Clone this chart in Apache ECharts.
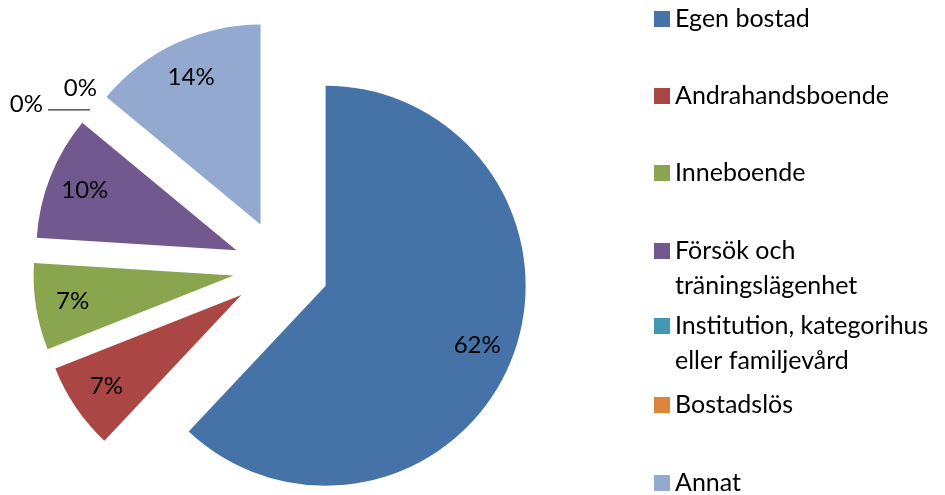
<!DOCTYPE html>
<html>
<head>
<meta charset="utf-8">
<title>Boende</title>
<script src="https://cdn.jsdelivr.net/npm/echarts@6/dist/echarts.min.js"></script>
<style>
    html, body { margin: 0; padding: 0; background: #fff; }
    #main { width: 945px; height: 495px; }
</style>
</head>
<body>
<div id="main"></div>
<script>
    // kategorier och andelar (procent)
    var categories = ['Egen bostad', 'Andrahandsboende', 'Inneboende', 'Försök och\nträningslägenhet',
        'Institution, kategorihus\neller familjevård', 'Bostadslös', 'Annat'];
    var shares = [62, 7, 7, 10, 0, 0, 14];

    var colors = ['#4572A7', '#AA4643', '#89A54E', '#71588F', '#4198AF', '#DB843D', '#93A9CF'];
    // legendens ikonmitt (y) for varje rad
    var legendIconY = [19, 96, 173, 251, 326, 405, 483];

    var font = 'Lato';

    var myChart = echarts.init(document.getElementById('main'));

    var legends = categories.map(function (name, i) {
        var multi = name.indexOf('\n') >= 0;
        return {
            left: 654,
            top: legendIconY[i] - (multi ? 52.5 : 17.5),
            orient: 'vertical',
            padding: 0,
            itemWidth: 16,
            itemHeight: 16,
            icon: 'rect',
            selectedMode: false,
            data: [name],
            // tom rad först så att ikonen hamnar vid första textraden
            formatter: function (n) { return n.indexOf('\n') >= 0 ? '\n' + n : n; },
            textStyle: {
                fontFamily: font,
                fontSize: 25,
                color: '#000',
                lineHeight: 35
            }
        };
    });

    var pieData = categories.map(function (name, i) {
        var item = { name: name, value: shares[i], selected: true };
        if (shares[i] === 0) {
            item.label = { show: true, position: 'outside' };
            item.labelLine = i === 4
                ? { show: true, length: 0, length2: 42, lineStyle: { color: '#000', width: 1 } }
                : { show: false, length: 0, length2: 0 };
        }
        return item;
    });

    var labelData = categories.map(function (name, i) {
        return { name: name, value: shares[i], selected: true, label: { show: shares[i] > 0 } };
    });

    var pctLabel = function (p) { return p.value + '%'; };

    myChart.setOption({
        color: colors,
        animation: false,
        legend: legends,
        series: [
            {
                name: 'Boende',
                type: 'pie',
                center: [281, 268],
                radius: [0, 200],
                startAngle: 90,
                clockwise: true,
                selectedMode: 'multiple',
                selectedOffset: 48,
                avoidLabelOverlap: false,
                bleedMargin: 0,
                itemStyle: { borderWidth: 0 },
                emphasis: { disabled: true },
                label: {
                    show: false,
                    formatter: pctLabel,
                    fontFamily: font,
                    fontSize: 24,
                    color: '#000',
                    distanceToLabelLine: 5
                },
                labelLine: { show: false },
                labelLayout: function (p) {
                    if (p.dataIndex === 5) return { dx: 12, dy: -22 };
                    if (p.dataIndex === 4) return { dy: -6 };
                    return {};
                },
                data: pieData
            },
            {
                // bara etiketter, placerade lite längre ut i tårtbitarna
                name: 'Etiketter',
                type: 'pie',
                center: [281, 268],
                radius: [0, 320],
                startAngle: 90,
                clockwise: true,
                selectedMode: 'multiple',
                selectedOffset: 48,
                silent: true,
                legendHoverLink: false,
                avoidLabelOverlap: false,
                itemStyle: { color: 'rgba(0,0,0,0)', borderWidth: 0 },
                label: {
                    position: 'inside',
                    formatter: pctLabel,
                    fontFamily: font,
                    fontSize: 24,
                    color: '#000'
                },
                labelLine: { show: false },
                data: labelData
            }
        ]
    });
</script>
</body>
</html>
